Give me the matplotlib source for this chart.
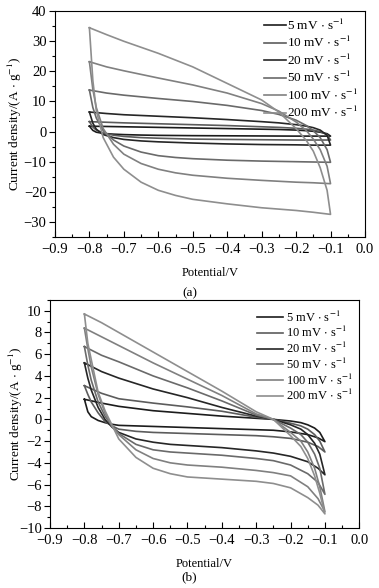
import numpy as np
import matplotlib.pyplot as plt
from matplotlib.ticker import MultipleLocator, FuncFormatter

plt.rcParams['font.family'] = ['Liberation Serif', 'DejaVu Serif']
plt.rcParams['mathtext.fontset'] = 'stix'

rates = ['5', '10', '20', '50', '100', '200']
colors = ['#1c1c1c', '#5c5c5c', '#262626', '#6a6a6a', '#808080', '#8e8e8e']

# panel (a): anodic (upper) and cathodic (lower) branches
a_up_v = [-0.8, -0.75, -0.7, -0.6, -0.5, -0.4, -0.3, -0.25, -0.2, -0.17, -0.15, -0.13, -0.11, -0.1]
a_up = [
    [1.8, 1.7, 1.6, 1.4, 1.2, 1.0, 0.8, 0.7, 0.5, 0.3, 0.1, -0.2, -0.7, -1.5],
    [3.3, 3.1, 2.9, 2.6, 2.3, 2.0, 1.6, 1.4, 1.1, 0.8, 0.5, 0.0, -1.0, -2.8],
    [6.5, 6.0, 5.6, 5.1, 4.6, 4.0, 3.3, 2.9, 2.3, 1.8, 1.3, 0.5, -1.2, -4.5],
    [13.8, 12.8, 12.1, 11.0, 10.0, 8.7, 7.0, 5.7, 3.8, 2.0, 0.3, -2.0, -6.0, -10.2],
    [23.2, 21.5, 20.2, 17.8, 15.5, 12.8, 9.3, 6.8, 3.2, 0.3, -2.5, -6.0, -11.5, -17.3],
    [34.5, 32.2, 30.0, 26.0, 21.5, 16.0, 10.5, 6.5, 1.0, -3.0, -6.5, -12.0, -19.5, -27.5],
]
a_lo_v = [-0.1, -0.15, -0.2, -0.3, -0.4, -0.5, -0.55, -0.6, -0.65, -0.7, -0.73, -0.76, -0.78, -0.79, -0.8]
a_lo = [
    [-1.5, -1.5, -1.5, -1.45, -1.4, -1.35, -1.3, -1.25, -1.15, -1.0, -0.85, -0.6, -0.2, 0.4, 1.8],
    [-2.8, -2.8, -2.8, -2.7, -2.6, -2.5, -2.35, -2.2, -2.0, -1.6, -1.2, -0.5, 0.5, 1.5, 3.3],
    [-4.5, -4.5, -4.4, -4.3, -4.1, -3.8, -3.6, -3.4, -3.1, -2.6, -2.0, -1.0, 0.8, 2.8, 6.5],
    [-10.2, -10.1, -10.0, -9.8, -9.5, -9.0, -8.6, -8.0, -6.8, -4.8, -2.8, 0.3, 4.5, 8.0, 13.8],
    [-17.3, -17.0, -16.8, -16.2, -15.5, -14.5, -13.7, -12.5, -10.6, -7.5, -4.2, 1.0, 8.0, 14.0, 23.2],
    [-27.5, -26.8, -26.2, -25.3, -24.0, -22.5, -21.2, -19.5, -16.8, -12.5, -8.5, -2.0, 7.0, 17.0, 34.5],
]

# panel (b)
b_up_v = [-0.8, -0.75, -0.7, -0.6, -0.5, -0.4, -0.3, -0.25, -0.2, -0.17, -0.15, -0.13, -0.115, -0.1]
b_up = [
    [1.85, 1.5, 1.2, 0.8, 0.55, 0.3, 0.1, 0.0, -0.15, -0.3, -0.5, -0.8, -1.2, -2.05],
    [3.1, 2.4, 1.9, 1.5, 1.15, 0.75, 0.2, 0.0, -0.35, -0.6, -0.9, -1.4, -2.0, -3.0],
    [5.2, 4.4, 3.8, 2.8, 2.0, 1.1, 0.3, 0.0, -0.5, -0.9, -1.4, -2.2, -3.2, -5.1],
    [6.7, 5.9, 5.3, 4.0, 2.9, 1.7, 0.4, 0.0, -0.8, -1.4, -2.1, -3.2, -4.5, -6.9],
    [8.4, 7.6, 6.8, 5.2, 3.7, 2.2, 0.5, 0.0, -1.2, -2.0, -3.0, -4.5, -6.2, -8.5],
    [9.7, 8.9, 8.0, 6.2, 4.4, 2.6, 0.7, 0.0, -1.5, -2.5, -3.6, -5.2, -6.8, -8.7],
]
b_lo_v = [-0.1, -0.12, -0.15, -0.2, -0.25, -0.3, -0.4, -0.5, -0.55, -0.6, -0.65, -0.7, -0.72, -0.74, -0.76, -0.78, -0.79, -0.8]
b_lo = [
    [-2.05, -1.7, -1.4, -1.15, -1.0, -0.95, -0.85, -0.75, -0.7, -0.65, -0.6, -0.55, -0.45, -0.3, -0.1, 0.25, 0.7, 1.85],
    [-3.0, -2.5, -2.1, -1.75, -1.6, -1.5, -1.4, -1.3, -1.25, -1.2, -1.1, -0.9, -0.6, -0.2, 0.6, 1.6, 2.3, 3.1],
    [-5.1, -4.5, -3.9, -3.4, -3.1, -2.9, -2.6, -2.4, -2.3, -2.1, -1.8, -1.2, -0.7, 0.0, 1.1, 2.7, 3.8, 5.2],
    [-6.9, -5.8, -5.0, -4.2, -3.8, -3.6, -3.3, -3.1, -3.0, -2.8, -2.3, -1.3, -0.6, 0.3, 1.6, 3.6, 5.0, 6.7],
    [-8.5, -7.3, -6.2, -5.2, -4.9, -4.7, -4.4, -4.2, -4.0, -3.6, -2.8, -1.4, -0.6, 0.6, 2.3, 4.8, 6.5, 8.4],
    [-8.7, -7.9, -7.2, -6.3, -5.9, -5.7, -5.5, -5.3, -5.0, -4.5, -3.5, -1.8, -0.5, 0.8, 2.5, 5.5, 7.0, 9.7],
]


def fmt_x(v, pos):
    s = '%.1f' % v
    if s == '-0.0':
        s = '0.0'
    return s.replace('-', '\u2212')


def fmt_y(v, pos):
    s = '%d' % round(v)
    return s.replace('-', '\u2212')


def draw(ax, up_v, up, lo_v, lo, ylim, ymaj, ymin, ylab_x, leg_y, leg_fs, leg_sp, hl, htp):
    for i in range(len(rates)):
        v = up_v + lo_v
        c = up[i] + lo[i]
        ax.plot(v, c, color=colors[i], lw=1.2, label=r'%s mV $\cdot$ s$^{-1}$' % rates[i],
                solid_joinstyle='round')
    ax.set_xlim(-0.9, 0.0)
    ax.set_ylim(*ylim)
    ax.xaxis.set_major_locator(MultipleLocator(0.1))
    ax.xaxis.set_minor_locator(MultipleLocator(0.05))
    ax.yaxis.set_major_locator(MultipleLocator(ymaj))
    ax.yaxis.set_minor_locator(MultipleLocator(ymin))
    ax.xaxis.set_major_formatter(FuncFormatter(fmt_x))
    ax.yaxis.set_major_formatter(FuncFormatter(fmt_y))
    ax.tick_params(axis='x', which='major', direction='in', length=4, width=0.8, labelsize=10.5, pad=4)
    ax.tick_params(axis='x', which='minor', direction='in', length=2.5, width=0.8)
    ax.tick_params(axis='y', which='major', direction='out', length=4, width=0.8, labelsize=10.5, pad=2)
    ax.tick_params(axis='y', which='minor', direction='out', length=2.5, width=0.8)
    for s in ax.spines.values():
        s.set_linewidth(0.8)
    ax.set_xlabel('Potential/V', fontsize=9, labelpad=8)
    ax.set_ylabel(r'Current density/(A $\cdot$ g$^{-1}$)', fontsize=9.5)
    ax.yaxis.set_label_coords(ylab_x, 0.5)
    ax.legend(loc='upper right', bbox_to_anchor=(1.0, leg_y), frameon=False, fontsize=leg_fs,
              handlelength=hl, handletextpad=htp, labelspacing=leg_sp, borderaxespad=0.1)


fig = plt.figure(figsize=(3.79, 5.88), dpi=100)
ax1 = fig.add_axes([0.145, 0.597, 0.818, 0.384])
ax2 = fig.add_axes([0.132, 0.102, 0.816, 0.388])

draw(ax1, a_up_v, a_up, a_lo_v, a_lo, (-35, 40), 10, 5, -0.10, 1.0, 9.5, 0.18, 1.7, 0.1)
draw(ax2, b_up_v, b_up, b_lo_v, b_lo, (-10, 11), 2, 1, -0.08, 0.985, 9.0, 0.05, 2.1, 0.25)

fig.text(0.5, 1 - 293 / 588, '(a)', ha='center', va='center', fontsize=9.5)
fig.text(0.5, 1 - 577 / 588, '(b)', ha='center', va='center', fontsize=9.5)

fig.savefig('out.png', dpi=100)
